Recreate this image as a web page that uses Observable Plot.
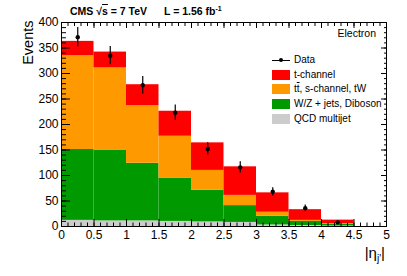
<!DOCTYPE html>
<html>
<head>
<meta charset="utf-8">
<script src="https://cdn.jsdelivr.net/npm/d3@7"></script>
<script src="https://cdn.jsdelivr.net/npm/@observablehq/plot@0.6"></script>
<style>
  html, body { margin: 0; padding: 0; background: #fff; }
  #wrap { position: relative; width: 407px; height: 276px; font-family: "Liberation Sans", Arial, Helvetica, sans-serif; overflow: hidden; }
  #wrap svg { position: absolute; left: 0; top: 0; }
  .ov { position: absolute; white-space: nowrap; color: #000; }
  .lg { position: absolute; left: 272px; width: 120px; font-size: 10px; height: 12px; line-height: 12px; white-space: nowrap; }
  .sw { position: absolute; left: 0; top: 1px; width: 18px; height: 10px; }
  .lt { position: absolute; left: 22px; top: 0; white-space: nowrap; }
</style>
</head>
<body>
<div id="wrap"></div>
<script>
// ---- data ----
const binLow  = [0, 0.5, 1, 1.5, 2, 2.5, 3, 3.5, 4];
const binHigh = [0.5, 1, 1.5, 2, 2.5, 3, 3.5, 4, 4.5];
const seriesNames  = ["QCD multijet", "W/Z + jets, Diboson", "tt̄, s-channel, tW", "t-channel"];
const seriesColors = ["#cccccc", "#009900", "#ff9900", "#ff0000"];
const qcd      = [12, 11, 11, 10, 9, 8, 3, 2, 1];
const wzjets   = [139, 139, 113, 85, 62, 33, 17, 8, 3.5];
const ttbar    = [184, 161, 113, 82, 39, 20, 8, 2, 1];
const tchannel = [28, 31, 41, 49, 54, 56, 38, 21, 7];
const dataVals = [371, 335, 277, 223, 152, 116, 68, 36, 8];
const dataErr  = [19, 18, 17, 15, 12, 11, 8, 6, 3];
const xMajor = [0, 0.5, 1, 1.5, 2, 2.5, 3, 3.5, 4, 4.5, 5];
const xMinor = d3.range(0, 50).map(i => i / 10);
const yMajor = [0, 50, 100, 150, 200, 250, 300, 350, 400];
const yMinor = d3.range(0, 40).map(i => i * 10);

// ---- build stacked rectangles ----
const layers = [qcd, wzjets, ttbar, tchannel];
const rects = [];
binLow.forEach((lo, i) => {
  let base = 0;
  layers.forEach((vals, s) => {
    rects.push({x1: lo, x2: binHigh[i], y1: base, y2: base + vals[i], series: seriesNames[s]});
    base += vals[i];
  });
});
const points = binLow.map((lo, i) => ({x: (lo + binHigh[i]) / 2, y: dataVals[i], lo: dataVals[i] - dataErr[i], hi: dataVals[i] + dataErr[i]}));

const fmt = d => String(d);
const plot = Plot.plot({
  width: 407,
  height: 276,
  marginLeft: 61,
  marginRight: 21,
  marginTop: 22,
  marginBottom: 50,
  style: {fontFamily: '"Liberation Sans", Arial, Helvetica, sans-serif', fontSize: "12px", background: "transparent", overflow: "visible"},
  x: {domain: [0, 5]},
  y: {domain: [0, 400]},
  color: {domain: seriesNames, range: seriesColors},
  marks: [
    Plot.rect(rects, {x1: "x1", x2: "x2", y1: "y1", y2: "y2", fill: "series"}),
    Plot.ruleX(points, {x: "x", y1: "lo", y2: "hi", stroke: "#000", strokeWidth: 1.2}),
    Plot.dot(points, {x: "x", y: "y", r: 2.2, fill: "#000"}),
    // ticks (inward, ROOT style)
    Plot.axisX({anchor: "bottom", ticks: xMinor, tickSize: -3.5, text: null, label: null}),
    Plot.axisX({anchor: "bottom", ticks: xMajor, tickSize: -7, text: null, label: null}),
    Plot.axisX({anchor: "top", ticks: xMinor, tickSize: -3, text: null, label: null}),
    Plot.axisX({anchor: "top", ticks: xMajor, tickSize: -5, text: null, label: null}),
    Plot.axisY({anchor: "left", ticks: yMinor, tickSize: -5, text: null, label: null}),
    Plot.axisY({anchor: "left", ticks: yMajor, tickSize: -9, text: null, label: null}),
    Plot.axisY({anchor: "right", ticks: yMinor, tickSize: -3, text: null, label: null}),
    Plot.axisY({anchor: "right", ticks: yMajor, tickSize: -6, text: null, label: null}),
    // labels
    Plot.axisX({anchor: "bottom", ticks: xMajor, tickSize: 0, tickPadding: 4, tickFormat: fmt, label: null, fontSize: 12}),
    Plot.axisY({anchor: "left", ticks: yMajor, tickSize: 0, tickPadding: 3, tickFormat: fmt, label: null, fontSize: 12}),
    Plot.text(["Events"], {frameAnchor: "top-left", rotate: -90, textAnchor: "end", dx: -39, dy: -2, fontSize: 14.5}),
    Plot.frame({stroke: "#000", strokeWidth: 1})
  ]
});
const wrap = document.getElementById("wrap");
wrap.appendChild(plot);

// ---- overlays: title, channel tag, axis label, legend ----
function addDiv(html, style, cls = "ov") {
  const d = document.createElement("div");
  d.className = cls;
  d.innerHTML = html;
  Object.assign(d.style, style);
  wrap.appendChild(d);
  return d;
}
addDiv('CMS &radic;<span style="text-decoration:overline">s</span> = 7 TeV', {left: "70px", top: "5px", fontSize: "10.5px", fontWeight: "bold"});
addDiv('L = 1.56 fb<sup style="font-size:7px;vertical-align:4px">-1</sup>', {left: "164px", top: "5px", fontSize: "10.5px", fontWeight: "bold"});
addDiv("Electron", {right: "31px", top: "27px", fontSize: "10.5px"});
addDiv('|&eta;<sub style="font-size:10px;vertical-align:-4px">j\'</sub>|', {right: "22px", top: "244px", fontSize: "15px"});

const legendItems = [
  {label: "Data", type: "data", top: 54},
  {label: "t-channel", color: seriesColors[3], top: 69},
  {label: "t<span style=\"text-decoration:overline\">t</span>, s-channel, tW", color: seriesColors[2], top: 83},
  {label: "W/Z + jets, Diboson", color: seriesColors[1], top: 98},
  {label: "QCD multijet", color: seriesColors[0], top: 113}
];
legendItems.forEach(it => {
  const row = document.createElement("div");
  row.className = "lg";
  row.style.top = it.top + "px";
  if (it.type === "data") {
    row.innerHTML = '<div style="position:absolute;left:0;top:5.5px;width:18px;height:1.2px;background:#000"></div>' +
      '<div style="position:absolute;left:7px;top:4px;width:4px;height:4px;border-radius:2px;background:#000"></div>';
  } else {
    row.innerHTML = '<div class="sw" style="background:' + it.color + '"></div>';
  }
  row.innerHTML += '<div class="lt">' + it.label + '</div>';
  wrap.appendChild(row);
});
</script>
</body>
</html>
